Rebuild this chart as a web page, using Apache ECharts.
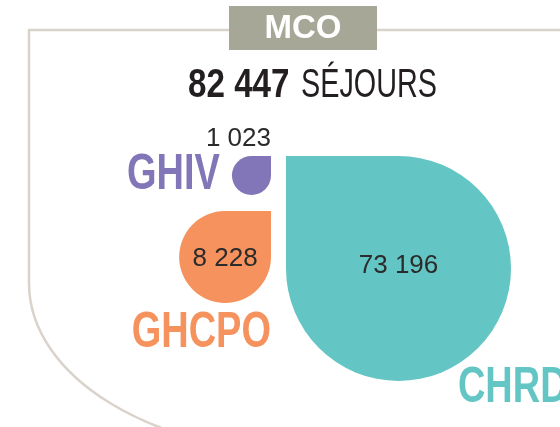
<!DOCTYPE html>
<html>
<head>
<meta charset="utf-8">
<script src="https://cdn.jsdelivr.net/npm/echarts@6/dist/echarts.min.js"></script>
<style>
  html, body { margin: 0; padding: 0; background: #fff; }
  #chart { width: 560px; height: 427px; }
</style>
</head>
<body>
<div id="chart"></div>
<script>
// data
const sectionLabel = 'MCO';
const totalSejours = 82447;
const unitLabel = 'SÉJOURS';
const establishments = ['CHRD', 'GHCPO', 'GHIV'];
const sejours = [73196, 8228, 1023];
const colors = ['#63c6c4', '#f6925d', '#8275b8'];

// no condensed face installed: squeeze Liberation Sans horizontally instead
const SANS = '"Liberation Sans", Arial, sans-serif';
const INK = '#231f20';

// "73196" -> "73 196"
const fmt = (v) => String(v).replace(/\B(?=(\d{3})+(?!\d))/g, ' ');

// layout: biggest drop right of the gap, the others stacked on its left
const maxSide = 225;
const maxValue = Math.max(...sejours);
const sideOf = (v) => maxSide * Math.pow(v / maxValue, 0.41);
const gapX = 278.5;
const gap = 15;
const topY = 156;

const layout = [];
let stackY = topY;
sejours
  .map((v, i) => i)
  .sort((a, b) => sejours[a] - sejours[b])
  .forEach((i) => {
    const s = sideOf(sejours[i]);
    if (sejours[i] === maxValue) {
      layout[i] = {x: gapX + gap / 2, y: topY, s, right: true};
    } else {
      layout[i] = {x: gapX - gap / 2 - s, y: stackY, s, right: false};
      stackY += s + 16;
    }
  });

function valueLabel(text, x, y, align) {
  return {
    type: 'text', x, y,
    style: {text, x: 0, y: 0, align, verticalAlign: 'middle', fill: '#2b2b2b', fontSize: 26, fontFamily: SANS},
  };
}

function nameLabel(text, x, y, align, color) {
  return {
    type: 'text', x, y, scaleX: 0.76,
    style: {text, x: 0, y: 0, align, verticalAlign: 'middle', fill: color, fontSize: 50, fontWeight: 'bold', fontFamily: SANS},
  };
}

function renderDrop(params, api) {
  const i = params.dataIndex;
  const {x, y, s, right} = layout[i];
  const h = s / 2;
  const color = colors[i];
  const valueText = fmt(api.value(0));
  const nameText = establishments[i];
  const children = [{
    type: 'rect',
    shape: {x, y, width: s, height: s, r: right ? [0, h, h, h] : [h, 0, h, h]},
    style: {fill: color},
  }];

  if (right) {
    children.push(valueLabel(valueText, x + h, y + h - 3, 'center'));
    children.push(nameLabel(nameText, x + s * 0.764, y + s + 7, 'left', color));
  } else if (s < 60) {
    children.push(valueLabel(valueText, x + s, y - 17, 'right'));
    children.push(nameLabel(nameText, x - 12, y + h, 'right', color));
  } else {
    children.push(valueLabel(valueText, x + h, y + h + 2, 'center'));
    children.push(nameLabel(nameText, x + s, y + s + 30, 'right', color));
  }
  return {type: 'group', children};
}

const chart = echarts.init(document.getElementById('chart'), null, {renderer: 'canvas'});

chart.setOption({
  animation: false,
  graphic: [
    // frame: top rule and left side with a wide rounded corner
    {
      type: 'polyline',
      shape: {points: [[560, 30], [29, 30], [29, 283]]},
      style: {fill: null, stroke: '#d9d3cc', lineWidth: 2.5},
      z: 0,
    },
    {
      type: 'bezierCurve',
      shape: {x1: 29, y1: 283, cpx1: 29, cpy1: 377, cpx2: 153, cpy2: 453, x2: 308, y2: 453},
      style: {fill: null, stroke: '#d9d3cc', lineWidth: 2.5},
      z: 0,
    },
    {
      type: 'rect',
      shape: {x: 229, y: 6, width: 148, height: 44},
      style: {fill: '#a6a797'},
      z: 1,
    },
    {
      type: 'text',
      x: 303,
      y: 29,
      style: {text: sectionLabel, fill: '#fff', fontSize: 33, fontWeight: 'bold', fontFamily: SANS, align: 'center', verticalAlign: 'middle'},
      z: 2,
    },
    // headline: total stays
    {
      type: 'text',
      x: 188,
      y: 86,
      scaleX: 0.83,
      style: {text: fmt(totalSejours), fill: INK, fontSize: 40, fontWeight: 'bold', fontFamily: SANS, align: 'left', verticalAlign: 'middle'},
      z: 2,
    },
    {
      type: 'text',
      x: 301,
      y: 86,
      scaleX: 0.72,
      style: {text: unitLabel, fill: INK, fontSize: 40, fontFamily: SANS, align: 'left', verticalAlign: 'middle'},
      z: 2,
    },
  ],
  series: [{
    type: 'custom',
    coordinateSystem: 'none',
    renderItem: renderDrop,
    data: sejours.map((v) => [v]),
  }],
});
</script>
</body>
</html>
